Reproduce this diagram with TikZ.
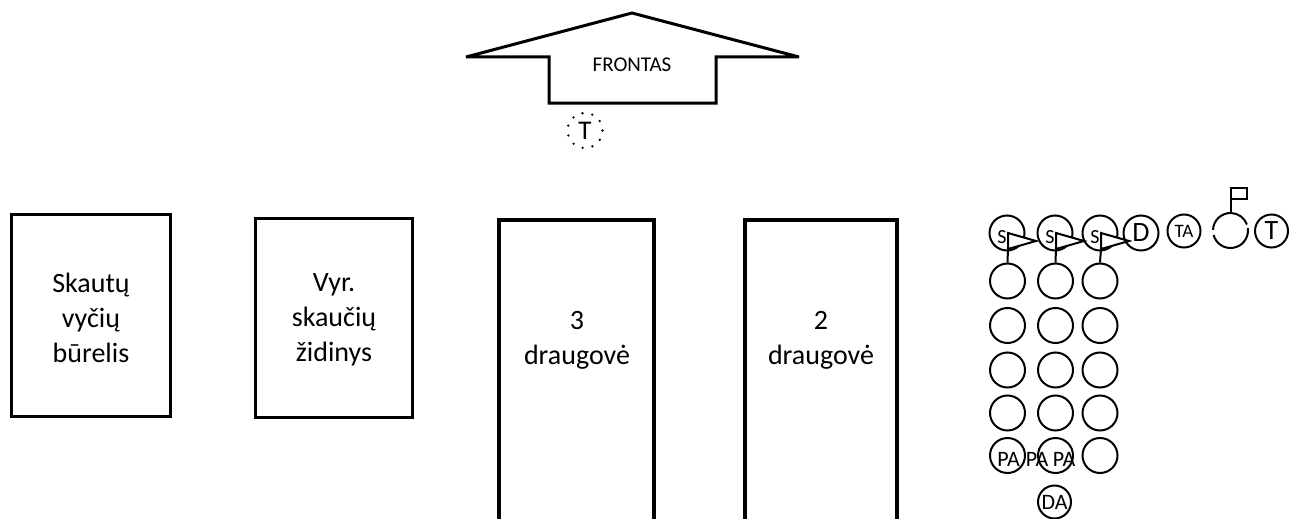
\documentclass[tikz,border=0pt]{standalone}
\usepackage{fontspec}
\setmainfont{Carlito}
\begin{document}
\begin{tikzpicture}[x=1pt,y=-1pt,
  box/.style={draw, line width=3.5pt, inner sep=0pt},
  txt/.style={align=center, inner sep=0pt, font=\fontsize{28}{35}\selectfont},
  circ/.style={draw, circle, line width=2pt, minimum size=35pt, inner sep=0pt},
  smallcirc/.style={draw, circle, line width=2pt, minimum size=33pt, inner sep=0pt},
  lbl/.style={inner sep=0pt, font=\fontsize{#1}{#1}\selectfont},
  pennant/.style={draw, line width=2pt, fill=white, line join=miter},
]
\useasboundingbox (0,0) rectangle (1291,519);
\clip (0,0) rectangle (1291,519);

% front arrow
\draw[line width=3pt, miter limit=4] (466,57) -- (632,13) -- (799,57) -- (716,57) -- (716,103) -- (549,103) -- (549,57) -- cycle;
\node[lbl=21] (front) at (632,65) {FRONTAS};
\node[circle, draw, dash pattern=on 0pt off 10pt, line cap=round, line width=2.6pt,
      minimum size=35pt, inner sep=0pt, font=\fontsize{27}{27}\selectfont] (tdot) at (585,130.5) {T};

% boxes
\node[box, minimum width=159pt, minimum height=202pt] (b1) at (91,315.5) {};
\node[txt] (b1t) at (91,318) {Skautų\\vyčių\\būrelis};
\node[box, minimum width=157pt, minimum height=199pt] (b2) at (334,318) {};
\node[txt] (b2t) at (334,320) {Vyr.\\skaučių\\židinys};
\node[box, minimum width=155pt, minimum height=400pt] (b3) at (576.5,420) {};
\node[txt] (b3t) at (577,340) {3\\draugovė};
\node[box, minimum width=152pt, minimum height=400pt] (b4) at (821,420) {};
\node[txt] (b4t) at (821,340) {2\\draugovė};

% patrol leaders row
\foreach \i/\x in {1/1007,2/1055,3/1100}{
  \node[circ] (s\i) at (\x,233) {};
  \node[lbl=20] (sl\i) at (\x-5,237) {S};
  \draw[pennant] (\x+1,233) -- (\x+29,241) -- (\x+1,249) -- cycle;
  \coordinate (pb\i) at (\x+1,249);
}
\node[circ, font=\fontsize{28}{28}\selectfont] (d) at (1141,233) {D};
\node[smallcirc, font=\fontsize{19}{19}\selectfont] (ta) at (1184,231) {TA};
\node[smallcirc, font=\fontsize{28}{28}\selectfont] (t) at (1271.5,231) {T};

% broken circle with flag
\coordinate (fc) at (1230.5,230.5);
\draw[line width=2pt] (fc) ++(-8:17.5) arc[start angle=-8, end angle=165, radius=17.5];
\draw[line width=2pt] (fc) ++(182:17.5) arc[start angle=182, end angle=340, radius=17.5];
\coordinate (ftop) at (1230.5,213);
\coordinate (fpole) at (1230.5,188);
\draw[line width=2pt] (ftop) -- (fpole);
\draw[line width=2pt] (fpole) rectangle (1247,199);

% grid of members
\foreach \r/\y in {2/281,3/325.5,4/370,5/413,6/455.5}{
  \foreach \c/\x in {1/1007.5,2/1055.5,3/1100}{
    \node[circ] (m\r\c) at (\x,\y) {};
  }
}
\foreach \i in {1,2,3}{
  \draw[line width=2pt] (pb\i) -- (m2\i.north);
}
\node[lbl=22] (pa1) at (1008.5,459) {PA};
\node[lbl=22] (pa2) at (1037,459) {PA};
\node[lbl=22] (pa3) at (1064,459) {PA};
\node[smallcirc, font=\fontsize{22}{22}\selectfont] (da) at (1054.5,502) {DA};
\end{tikzpicture}
\end{document}
